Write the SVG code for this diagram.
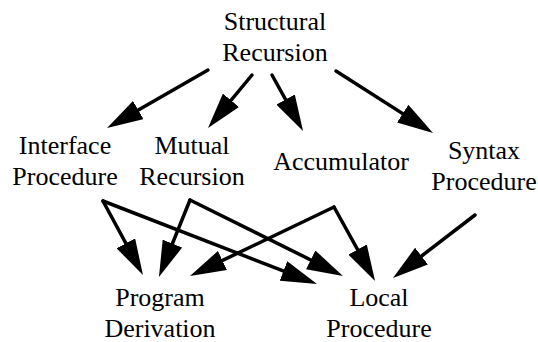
<svg xmlns="http://www.w3.org/2000/svg" width="538" height="342" viewBox="0 0 538 342">
<style>
text{font-family:"Liberation Serif","Times New Roman",serif;font-size:26px;fill:#000;text-anchor:middle}
.e{stroke:#000;stroke-width:3.5;fill:none;stroke-linecap:round;marker-end:url(#ah)}
</style>
<defs>
<marker id="ah" markerUnits="userSpaceOnUse" markerWidth="36" markerHeight="21" viewBox="0 0 36 21" refX="26" refY="10.5" orient="auto">
<path d="M0,0 L36,10.5 L0,21 Z" fill="#000"/>
</marker>
</defs>
<rect width="538" height="342" fill="#fff"/>
<g id="structural"><text x="275" y="30">Structural</text><text x="275" y="61">Recursion</text></g>
<g id="interface"><text x="65" y="154">Interface</text><text x="65" y="185">Procedure</text></g>
<g id="mutual"><text x="192" y="154">Mutual</text><text x="192" y="185">Recursion</text></g>
<g id="accumulator"><text x="341" y="170">Accumulator</text></g>
<g id="syntax"><text x="484" y="159">Syntax</text><text x="484" y="190">Procedure</text></g>
<g id="program"><text x="160" y="306">Program</text><text x="160" y="337">Derivation</text></g>
<g id="local"><text x="379" y="306">Local</text><text x="379" y="337">Procedure</text></g>
<g id="connectors">
<path class="e" d="M208,70 L115.7,123"/>
<path class="e" d="M252,75 L214.4,120.3"/>
<path class="e" d="M272,75 L298.2,122.3"/>
<path class="e" d="M336,71 L424.6,127.6"/>
<path class="e" d="M103,201 L138.2,266.2"/>
<path class="e" d="M103,201 L307.7,280.4"/>
<path class="e" d="M190,200 L162.7,267.7"/>
<path class="e" d="M190,200 L334,271.5"/>
<path class="e" d="M334,207 L199,271.7"/>
<path class="e" d="M334,207 L370.2,272.3"/>
<path class="e" d="M475,215 L400.9,271.9"/>
</g>
</svg>
